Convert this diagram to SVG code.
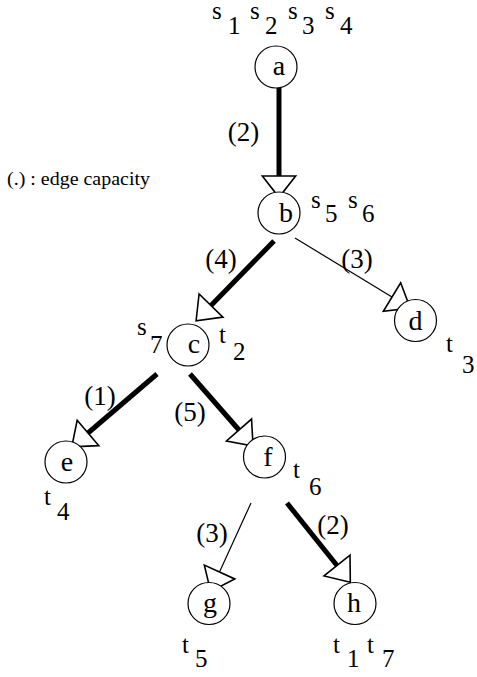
<svg xmlns="http://www.w3.org/2000/svg" width="477" height="677" viewBox="0 0 477 677">
<style>
text{font-family:"Liberation Serif","Times New Roman",Times,Tinos,"Noto Serif","DejaVu Serif",FreeSerif,serif;fill:#000}
.n{font-size:28px;text-anchor:middle}
.s{font-size:25px}
.l{font-size:27px;text-anchor:middle}
.k{font-size:18px}
circle{fill:#fff;stroke:#000;stroke-width:1.2}
.thick{stroke:#000;stroke-width:5;fill:none;marker-end:url(#ah)}
.thin{stroke:#000;stroke-width:1.2;fill:none;marker-end:url(#ah)}
</style>
<defs>
<marker id="ah" markerUnits="userSpaceOnUse" orient="auto" refX="0" refY="0" markerWidth="40" markerHeight="40" viewBox="-2 -15 22 30" overflow="visible">
<path d="M0,-12.5 L16,0 L0,12.5 Z" fill="#fff" stroke="#000" stroke-width="1.2"/>
</marker>
</defs>
<rect width="477" height="677" fill="#fff"/>
<g id="connectors">
<line class="thick" x1="279" y1="88" x2="279" y2="176"/>
<line class="thick" x1="274" y1="241" x2="211" y2="305.5"/>
<line class="thin" x1="295" y1="238" x2="392" y2="297"/>
<line class="thick" x1="157" y1="374" x2="88" y2="433"/>
<line class="thick" x1="190" y1="374" x2="239" y2="430"/>
<line class="thin" x1="251" y1="503" x2="219.5" y2="572"/>
<line class="thick" x1="287" y1="503" x2="337" y2="565.5"/>
</g>
<g id="edge-labels">
<text class="l" x="243.5" y="141">(2)</text>
<text class="l" x="221" y="268">(4)</text>
<text class="l" x="357" y="268">(3)</text>
<text class="l" x="100" y="405">(1)</text>
<text class="l" x="190" y="421">(5)</text>
<text class="l" x="212" y="542">(3)</text>
<text class="l" x="333" y="534">(2)</text>
<text class="k" x="7" y="185" textLength="143" lengthAdjust="spacingAndGlyphs">(.) : edge capacity</text>
</g>
<g id="node-a">
<circle cx="276" cy="67" r="21"/>
<text class="n" x="279" y="75">a</text>
<text class="s" x="212" y="19">s</text><text class="s" x="228" y="34">1</text>
<text class="s" x="250" y="19">s</text><text class="s" x="265" y="34">2</text>
<text class="s" x="288" y="19">s</text><text class="s" x="302" y="34">3</text>
<text class="s" x="325" y="19">s</text><text class="s" x="340" y="34">4</text>
</g>
<g id="node-b">
<circle cx="279" cy="213" r="21"/>
<text class="n" x="286" y="222">b</text>
<text class="s" x="311" y="208">s</text><text class="s" x="325" y="222">5</text>
<text class="s" x="348" y="208">s</text><text class="s" x="362" y="222">6</text>
</g>
<g id="node-c">
<circle cx="188" cy="345" r="21"/>
<text class="n" x="194" y="353">c</text>
<text class="s" x="137" y="335">s</text><text class="s" x="150" y="353">7</text>
<text class="s" x="219" y="343">t</text><text class="s" x="233" y="360">2</text>
</g>
<g id="node-d">
<circle cx="415.5" cy="320.5" r="21"/>
<text class="n" x="415.5" y="330">d</text>
<text class="s" x="446" y="352">t</text><text class="s" x="462" y="373">3</text>
</g>
<g id="node-e">
<circle cx="66" cy="462" r="21"/>
<text class="n" x="67" y="471">e</text>
<text class="s" x="44" y="505">t</text><text class="s" x="57" y="520">4</text>
</g>
<g id="node-f">
<circle cx="264.5" cy="457" r="21"/>
<text class="n" x="268" y="466">f</text>
<text class="s" x="293" y="478">t</text><text class="s" x="309" y="495">6</text>
</g>
<g id="node-g">
<circle cx="209" cy="603.5" r="21"/>
<text class="n" x="210" y="612">g</text>
<text class="s" x="182" y="653">t</text><text class="s" x="195" y="667">5</text>
</g>
<g id="node-h">
<circle cx="355" cy="603.5" r="21"/>
<text class="n" x="354" y="612">h</text>
<text class="s" x="333" y="653">t</text><text class="s" x="347" y="667">1</text>
<text class="s" x="367" y="653">t</text><text class="s" x="382" y="667">7</text>
</g>
</svg>
